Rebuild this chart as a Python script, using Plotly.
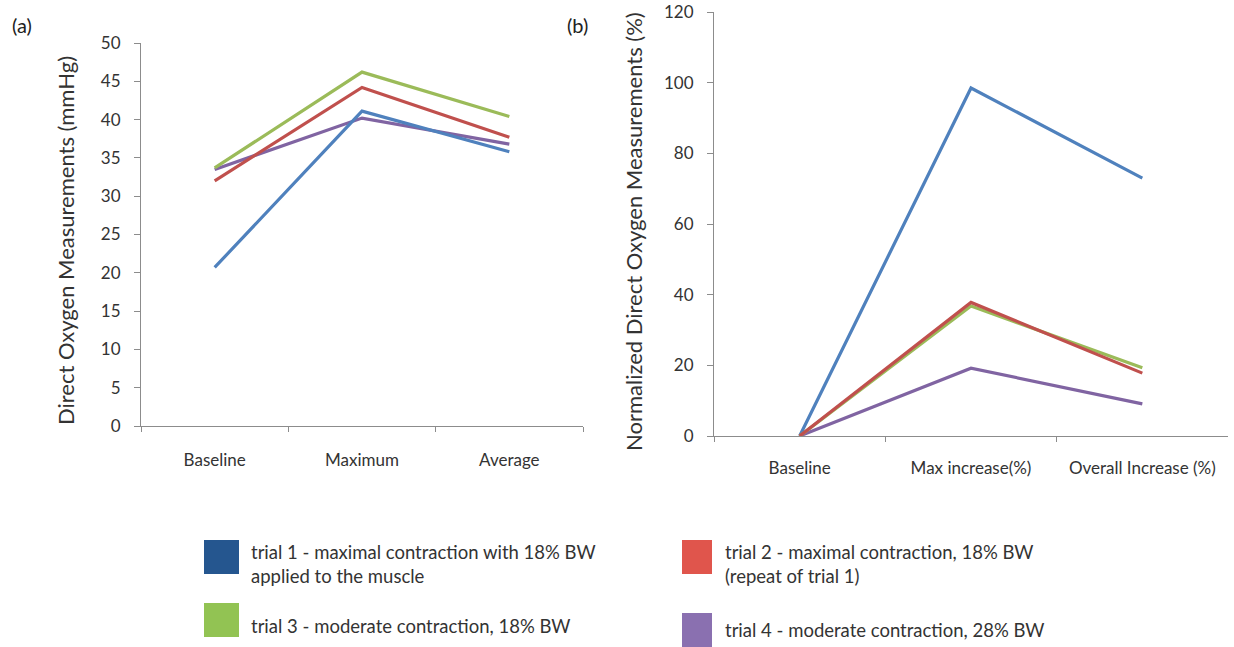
import plotly.graph_objects as go

W, H = 1234, 647

cats_a = ["Baseline", "Maximum", "Average"]
cats_b = ["Baseline", "Max increase(%)", "Overall Increase (%)"]

trial_names = [
    "trial 1 - maximal contraction with 18% BW<br>applied to the muscle",
    "trial 2 - maximal contraction, 18% BW<br>(repeat of trial 1)",
    "trial 3 - moderate contraction, 18% BW",
    "trial 4 - moderate contraction, 28% BW",
]
line_colors = ["#4F81BD", "#C0504D", "#9BBB59", "#8064A2"]
box_colors = ["#25568F", "#E0554C", "#92C353", "#8A70B0"]

# panel (a): direct oxygen measurements (mmHg)
a_trial1 = [20.7, 41.1, 35.8]
a_trial2 = [32.0, 44.2, 37.7]
a_trial3 = [33.7, 46.2, 40.4]
a_trial4 = [33.5, 40.2, 36.8]

# panel (b): normalized (%)
b_trial1 = [0, 98.5, 73.0]
b_trial2 = [0, 37.8, 17.8]
b_trial3 = [0, 36.8, 19.3]
b_trial4 = [0, 19.2, 9.1]

a_series = [a_trial1, a_trial2, a_trial3, a_trial4]
b_series = [b_trial1, b_trial2, b_trial3, b_trial4]

FONT = "Lato"
fig = go.Figure()

for i in [3, 0, 1, 2]:
    fig.add_trace(go.Scatter(x=cats_a, y=a_series[i], mode="lines", name=trial_names[i],
                             line=dict(color=line_colors[i], width=3.2), showlegend=False,
                             xaxis="x", yaxis="y"))
for i in [3, 0, 2, 1]:
    fig.add_trace(go.Scatter(x=cats_b, y=b_series[i], mode="lines", name=trial_names[i],
                             line=dict(color=line_colors[i], width=3.2), showlegend=False,
                             xaxis="x2", yaxis="y2"))

def px(x):
    return x / W

def py(y):
    return 1 - y / H

axis_common = dict(showline=True, linecolor="#8c8c8c", linewidth=1, showgrid=False,
                   zeroline=False, ticks="outside", tickcolor="#8c8c8c", automargin=False,
                   tickfont=dict(family=FONT, size=17, color="#333333"))

fig.update_layout(
    template="none",
    width=W, height=H, margin=dict(l=0, r=0, t=0, b=0, pad=0),
    paper_bgcolor="white", plot_bgcolor="white",
    font=dict(family=FONT, color="#333333"),
    xaxis=dict(domain=[px(141), px(583)], type="category", tickson="boundaries",
               range=[-0.5, 2.5], anchor="y", ticklen=5, ticklabelstandoff=19, **axis_common),
    yaxis=dict(domain=[py(426), py(43)], range=[0, 50], dtick=5, anchor="x",
               ticklen=6, ticklabelstandoff=10, **axis_common),
    xaxis2=dict(domain=[px(714), px(1228)], type="category", tickson="boundaries",
                range=[-0.5, 2.5], anchor="y2", ticklen=5, ticklabelstandoff=17, **axis_common),
    yaxis2=dict(domain=[py(436), py(12)], range=[0, 120], dtick=20, anchor="x2",
                ticklen=6, ticklabelstandoff=10, **axis_common),
)

ann = []
ann.append(dict(text="(a)", x=px(10), y=py(25), xanchor="left", yanchor="middle",
                font=dict(family=FONT, size=20, color="#222222")))
ann.append(dict(text="(b)", x=px(565), y=py(25), xanchor="left", yanchor="middle",
                font=dict(family=FONT, size=20, color="#222222")))
ann.append(dict(text="Direct Oxygen Measurements (mmHg)", x=px(65), y=py(241), textangle=-90,
                xanchor="center", yanchor="middle", font=dict(family=FONT, size=22, color="#333333")))
ann.append(dict(text="Normalized Direct Oxygen Measurements (%)", x=px(634), y=py(232), textangle=-90,
                xanchor="center", yanchor="middle", font=dict(family=FONT, size=22, color="#333333")))

boxes = [
    (204, 540, 239, 574, 0, 249, 564),
    (682, 540, 712, 574, 1, 723, 564),
    (204, 603, 239, 637, 2, 249, 626),
    (682, 613, 712, 647, 3, 723, 630),
]
shapes = []
for x0, y0, x1, y1, idx, tx, ty in boxes:
    shapes.append(dict(type="rect", xref="paper", yref="paper", x0=px(x0), x1=px(x1),
                       y0=py(y1), y1=py(y0), fillcolor=box_colors[idx], line=dict(width=0)))
    ann.append(dict(text=trial_names[idx], x=px(tx), y=py(ty), xanchor="left", yanchor="middle",
                    align="left", font=dict(family=FONT, size=18.5, color="#333333")))

for a in ann:
    a.update(xref="paper", yref="paper", showarrow=False)
fig.update_layout(annotations=ann, shapes=shapes)

fig.write_html("out.html")
